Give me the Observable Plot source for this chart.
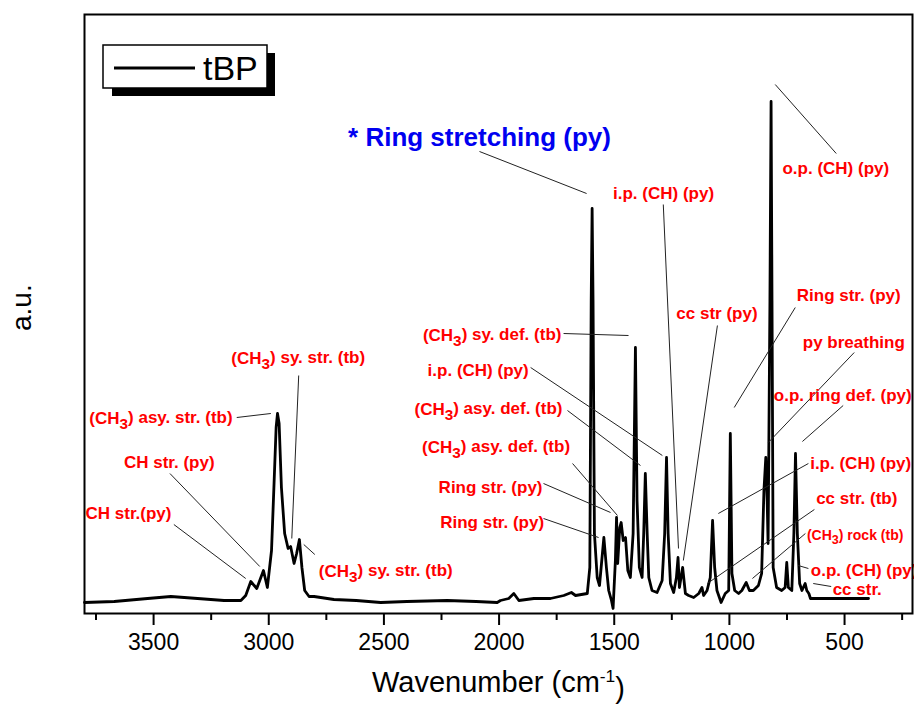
<!DOCTYPE html>
<html><head><meta charset="utf-8">
<script src="https://cdn.jsdelivr.net/npm/d3@7"></script>
<script src="https://cdn.jsdelivr.net/npm/@observablehq/plot@0.6"></script>
<style>body{margin:0;background:#fff}#chart{width:914px;height:709px}</style>
</head><body><div id="chart"></div>
<script>
// Spectrum (wavenumber in cm-1, intensity in a.u.)
const wavenumber = [3800,3671,3526,3425,3309,3194,3121,3100,3078,3052,3023,3006,2988,2977,2968,2962,2955,2945,2931,2916,2905,2890,2879,2867,2856,2844,2825,2803,2717,2620,2514,2400,2225,2100,2008,1994,1958,1936,1914,1849,1777,1719,1686,1668,1617,1606,1600,1596,1592,1586,1574,1564,1545,1534,1524,1512,1505,1495,1490,1485,1476,1470,1461,1451,1441,1430,1418,1408,1401,1391,1379,1372,1365,1357,1350,1336,1314,1292,1281,1273,1266,1256,1242,1230,1223,1217,1210,1203,1191,1177,1155,1133,1119,1112,1097,1083,1073,1064,1054,1036,1018,1003,996,989,977,960,946,927,913,896,874,860,850,842,836,832,824,819,815,810,795,773,758,751,744,729,720,713,705,695,685,671,664,655,648,396];
const intensity = [-2,-1,2,4,2,0,0,5,19,12,30,13,50,117,173,187,177,113,67,52,54,37,47,61,33,10,4,4,1,0,-2,-1,0,-1,-2,0,2,7,0,2,2,5,8,5,7,33,300,392,300,67,23,15,63,33,10,0,-8,40,83,37,73,78,60,63,30,23,67,253,100,33,23,67,127,67,23,10,8,20,67,143,67,17,8,23,43,13,23,33,7,5,3,7,13,5,10,23,80,33,10,-2,7,10,167,27,10,7,10,18,10,10,15,27,110,143,100,57,300,499,300,33,13,10,13,38,13,10,67,147,67,17,10,17,10,7,2,2];

const majorTicks = [3500,3000,2500,2000,1500,1000,500];
const minorTicks = [3750,3250,2750,2250,1750,1250,750,250];

const seriesName = "tBP";
const xTitle = "Wavenumber (cm⁻¹)";
const yTitle = "a.u.";

const headlineText = "* Ring stretching (py)";
const headlineWn = 2085;
const headlineAu = 463;

const labelText = ["CH str.(py)","CH str. (py)","(CH₃) asy. str. (tb)","(CH₃) sy. str. (tb)","(CH₃) sy. str. (tb)","(CH₃) sy. def. (tb)","i.p. (CH) (py)","(CH₃) asy. def. (tb)","(CH₃) asy. def. (tb)","Ring str. (py)","Ring str. (py)","i.p. (CH) (py)","cc str (py)","o.p. (CH) (py)","Ring str. (py)","py breathing","o.p. ring def. (py)","i.p. (CH) (py)","cc str. (tb)","(CH₃) rock (tb)","o.p. (CH) (py)","cc str."];
const labelWn = [3609,3432,3468,2872,2492,2030,2091,2046,2013,2037,2030,1286,1054,538,482,460,508,430,447,454,415,445];
const labelAu = [87,138,182,242,29,265,230,191,153,113,78,407,287,432,305,258,205,137,102,65,30,11];

const leaderWn1 = [3412,3429,3139,2870,2848,2085,1720,1863,1703,1681,1807,1807,1287,1052,801,714,458,506,657,631,670,657,558];
const leaderAu1 = [76,127,183,225,56,449,267,233,190,137,117,82,396,275,516,293,248,195,137,91,67,32,14];
const leaderWn2 = [3100,3039,2991,2900,2800,1620,1438,1291,1386,1486,1516,1568,1221,1200,536,979,831,683,1048,1096,900,701,636];
const leaderAu2 = [22,34,187,62,46,407,265,145,135,85,88,63,52,40,447,193,158,159,87,17,22,35,17];

const spectrum = wavenumber.map((w, i) => ({w, a: intensity[i]}));
const labels = labelText.map((t, i) => ({t, w: labelWn[i], a: labelAu[i]}));
const leaders = leaderWn1.map((w, i) => ({w1: w, a1: leaderAu1[i], w2: leaderWn2[i], a2: leaderAu2[i]}));
const smallLabel = "(CH₃) rock (tb)";

const chart = Plot.plot({
  width: 914, height: 709,
  marginLeft: 84, marginRight: 2, marginTop: 14, marginBottom: 96,
  style: {fontFamily: "'Liberation Sans', Arial, sans-serif", fontSize: "23px", background: "#fff", color: "#000"},
  x: {domain: [3800, 205], label: null},
  y: {domain: [-13, 586], axis: null},
  marks: [
    Plot.axisX(minorTicks, {tickSize: 7, strokeWidth: 2, tickFormat: () => "", label: null}),
    Plot.axisX(majorTicks, {tickSize: 12, strokeWidth: 2, tickPadding: 8, tickFormat: d => `${d}`, label: null, fill: "#000"}),
    Plot.line(spectrum, {x: "w", y: "a", stroke: "#000", strokeWidth: 2.8, strokeLinejoin: "round"}),
    Plot.link(leaders, {x1: "w1", y1: "a1", x2: "w2", y2: "a2", stroke: "#222", strokeWidth: 1}),
    Plot.text(labels.filter(d => d.t !== smallLabel), {x: "w", y: "a", text: "t", fill: "#ff0000", fontWeight: "bold", fontSize: 17}),
    Plot.text(labels.filter(d => d.t === smallLabel), {x: "w", y: "a", text: "t", fill: "#ff0000", fontWeight: "bold", fontSize: 14}),
    Plot.text([headlineText], {x: () => headlineWn, y: () => headlineAu, text: d => d, fill: "#0000f0", fontWeight: "bold", fontSize: 26}),
    Plot.frame({stroke: "#000", strokeWidth: 2}),
    Plot.text([xTitle], {frameAnchor: "bottom", text: d => d, dy: 78, fontSize: 29, fill: "#000"}),
    Plot.text([yTitle], {frameAnchor: "left", text: d => d, dx: -62, dy: 17, rotate: -90, fontSize: 28, fill: "#000"})
  ]
});

document.getElementById("chart").appendChild(chart);

// subscripts / superscripts as tspans
const svg = d3.select(chart);
svg.selectAll("text").each(function() {
  const s = this.textContent;
  const t = d3.select(this);
  if (s.includes("₃")) {
    const [a, b] = s.split("₃");
    t.text(null);
    t.append("tspan").text(a);
    t.append("tspan").attr("dy", "0.3em").attr("font-size", "0.9em").text("3");
    t.append("tspan").attr("dy", "-0.3em").text(b);
  } else if (s.includes("⁻¹")) {
    const [a, b] = s.split("⁻¹");
    t.text(null);
    t.append("tspan").text(a);
    t.append("tspan").attr("dy", "-0.55em").attr("font-size", "0.6em").text("-1");
    t.append("tspan").attr("dy", "0.55em").text(b);
  }
});

// legend box with shadow
const lg = svg.append("g");
lg.append("rect").attr("x", 112).attr("y", 53).attr("width", 163).attr("height", 43).attr("fill", "#000");
lg.append("rect").attr("x", 103).attr("y", 45).attr("width", 164).attr("height", 43).attr("fill", "#fff").attr("stroke", "#000").attr("stroke-width", 1.5);
lg.append("line").attr("x1", 114).attr("x2", 195).attr("y1", 68).attr("y2", 68).attr("stroke", "#000").attr("stroke-width", 2.8);
lg.append("text").attr("x", 203).attr("y", 80).attr("text-anchor", "start").attr("font-size", 34).attr("fill", "#000").text(seriesName);
</script></body></html>
